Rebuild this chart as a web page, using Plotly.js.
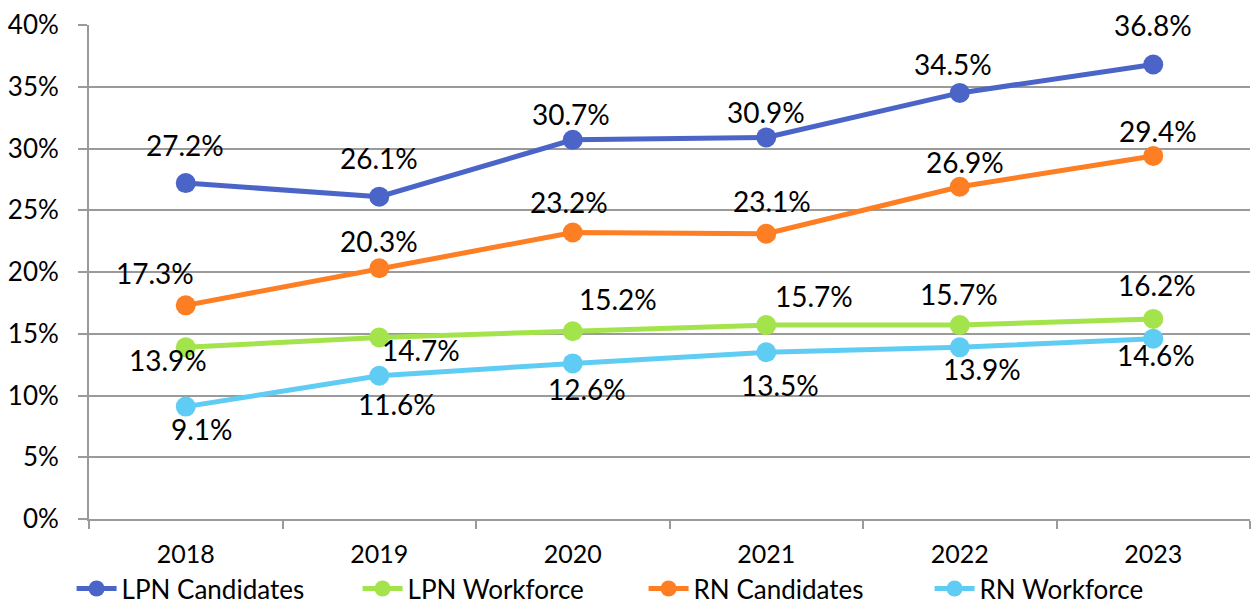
<!DOCTYPE html>
<html>
<head>
<meta charset="utf-8">
<script src="https://cdn.plot.ly/plotly-3.0.1.min.js"></script>
<style>
  html, body { margin: 0; padding: 0; background: #fff; }
  #chart { width: 1252px; height: 613px; }
</style>
</head>
<body>
<div id="chart"></div>
<script>
// data (percent)
const years = ['2018', '2019', '2020', '2021', '2022', '2023'];
const lpnCandidates = [27.2, 26.1, 30.7, 30.9, 34.5, 36.8];
const lpnWorkforce = [13.9, 14.7, 15.2, 15.7, 15.7, 16.2];
const rnCandidates = [17.3, 20.3, 23.2, 23.1, 26.9, 29.4];
const rnWorkforce = [9.1, 11.6, 12.6, 13.5, 13.9, 14.6];

const font = 'Lato, "Noto Sans", sans-serif';

// where each data label sits relative to its point, in px [dx, dy] (dy up)
const labelShift = {
    lpnC: [[-1, 38], [0, 39], [-2, 26], [0, 25], [-7, 29], [0, 40]],
    lpnW: [[-18, -13], [42, -13], [45, 32], [48, 29], [-1, 31], [4, 34]],
    rnC: [[-31, 32], [0, 27], [-4, 30], [6, 33], [5, 25], [5, 25]],
    rnW: [[16, -22], [18, -28], [14, -26], [14, -33], [22, -22], [3, -16]]
};

const series = (name, y, color) => ({
    x: years,
    y: y,
    name: name,
    type: 'scatter',
    mode: 'lines+markers',
    line: { color: color, width: 5 },
    marker: { color: color, size: 20 },
    cliponaxis: false
});

const traces = [
    series('LPN Candidates', lpnCandidates, '#4a64c8'),
    series('LPN Workforce', lpnWorkforce, '#a3e34c'),
    series('RN Candidates', rnCandidates, '#fd7e23'),
    series('RN Workforce', rnWorkforce, '#5fcdf3')
];

// annotations on a category axis take the category index
const labels = (y, shifts) => y.map((v, i) => ({
    x: i,
    y: v,
    xref: 'x',
    yref: 'y',
    text: v.toFixed(1) + '%',
    showarrow: false,
    xshift: shifts[i][0],
    yshift: shifts[i][1],
    font: { family: font, size: 28, color: '#000' }
}));

const annotations = [
    ...labels(lpnCandidates, labelShift.lpnC),
    ...labels(lpnWorkforce, labelShift.lpnW),
    ...labels(rnCandidates, labelShift.rnC),
    ...labels(rnWorkforce, labelShift.rnW)
];

Plotly.newPlot('chart', traces, {
    width: 1252,
    height: 613,
    margin: { l: 89, r: 2, t: 25, b: 93 },
    paper_bgcolor: '#fff',
    plot_bgcolor: '#fff',
    font: { family: font, size: 25, color: '#000' },
    showlegend: true,
    legend: {
        orientation: 'h',
        x: -0.015, xanchor: 'left',
        y: -0.186, yanchor: 'bottom',
        font: { family: font, size: 26, color: '#000' },
        entrywidth: 231,
        itemwidth: 40,
        traceorder: 'normal'
    },
    annotations: annotations,
    xaxis: {
        type: 'category',
        range: [-0.5, 5.5],
        showgrid: false,
        showline: true,
        linecolor: '#9a9a9a',
        linewidth: 2,
        ticks: 'outside',
        tickson: 'boundaries',
        ticklen: 8,
        tickwidth: 2,
        tickcolor: '#9a9a9a',
        ticklabelstandoff: 12,
        tickfont: { family: font, size: 25 },
        fixedrange: true
    },
    yaxis: {
        range: [0, 40],
        dtick: 5,
        ticksuffix: '%',
        showgrid: true,
        gridcolor: '#9a9a9a',
        gridwidth: 2,
        zeroline: false,
        showline: true,
        linecolor: '#9a9a9a',
        linewidth: 2,
        ticks: 'outside',
        ticklen: 9,
        tickwidth: 2,
        tickcolor: '#9a9a9a',
        ticklabelstandoff: 14,
        tickfont: { family: font, size: 26 },
        fixedrange: true
    }
}, { displayModeBar: false, staticPlot: true });
</script>
</body>
</html>
